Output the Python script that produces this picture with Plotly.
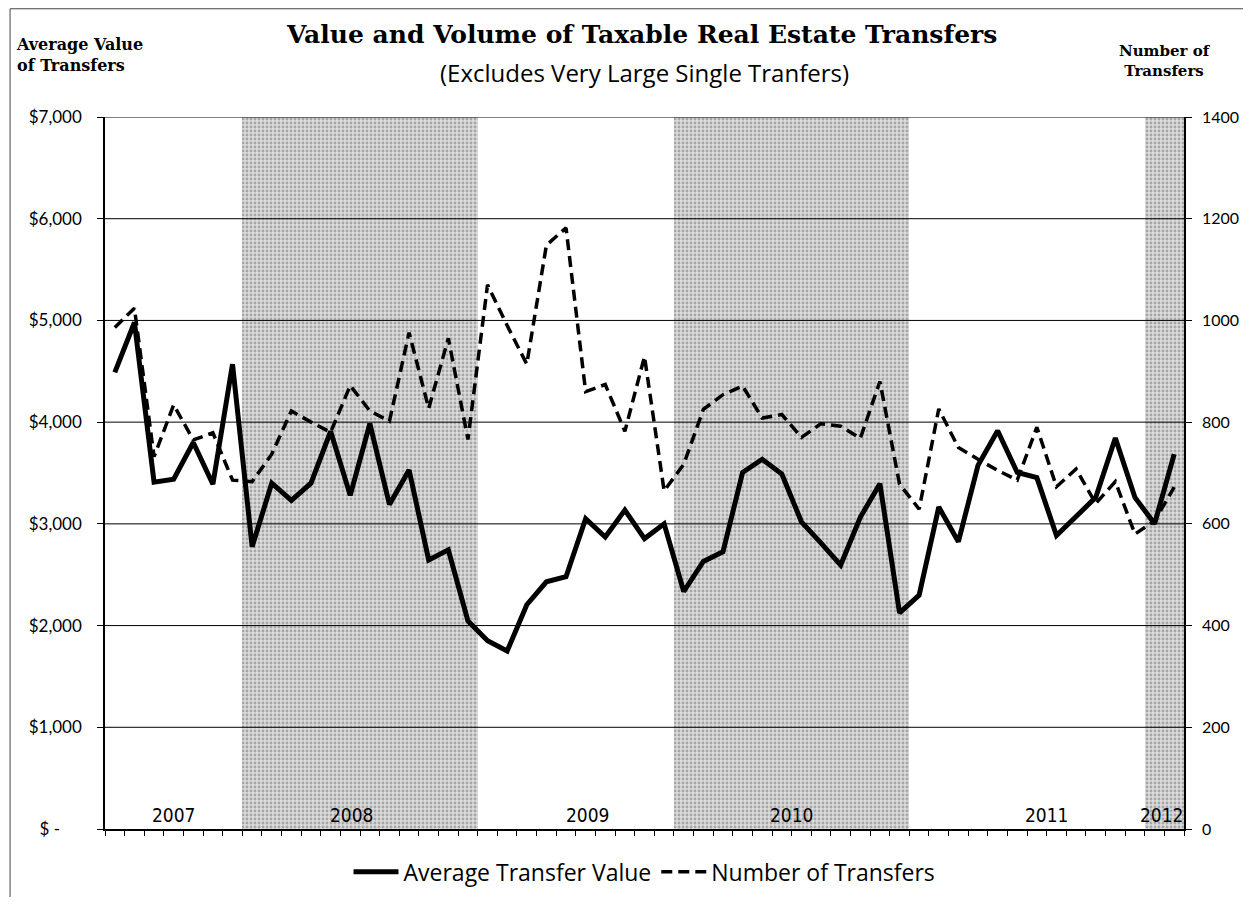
import calendar
import plotly.graph_objects as go

# ---------------- data ----------------
years = [2007, 2008, 2009, 2010, 2011, 2012]
months_per_year = [7, 12, 10, 12, 12, 2]
first_month = [6, 1, 1, 1, 1, 1]
shaded_years = [2008, 2010, 2012]

avg_value = [4490, 4980, 3410, 3440, 3800, 3390, 4570,
             2775, 3400, 3230, 3400, 3910, 3280, 3985, 3190, 3530, 2645, 2745, 2045,
             1850, 1750, 2205, 2430, 2480, 3050, 2870, 3135, 2855, 3000,
             2335, 2630, 2725, 3505, 3635, 3490, 3020, 2810, 2595, 3065, 3395, 2125,
             2300, 3165, 2825, 3575, 3915, 3505, 3455, 2885, 3065, 3260, 3845, 3260,
             3000, 3685]

num_transfers = [986, 1024, 732, 834, 765, 779, 686,
                 683, 737, 822, 800, 780, 872, 822, 802, 976, 827, 965, 766,
                 1070, 990, 914, 1148, 1182, 860, 874, 782, 929, 665,
                 717, 825, 854, 871, 808, 815, 770, 797, 792, 768, 880, 678,
                 629, 826, 750, 727, 705, 686, 790, 673, 708, 640, 683, 580,
                 606, 672]

left_ticks = [0, 1000, 2000, 3000, 4000, 5000, 6000, 7000]
left_ticktext = ["$\u00a0-\u00a0\u00a0\u00a0\u00a0\u00a0",
                 "$1,000", "$2,000", "$3,000", "$4,000", "$5,000", "$6,000", "$7,000"]
right_ticks = [0, 200, 400, 600, 800, 1000, 1200, 1400]

# ---------------- categories ----------------
month_labels = []
month_year = []
for y, n, f in zip(years, months_per_year, first_month):
    for m in range(f, f + n):
        month_labels.append(f"{calendar.month_abbr[m]} {y}")
        month_year.append(y)

shade_x = [lbl for lbl, y in zip(month_labels, month_year) if y in shaded_years]
shade_y = [left_ticks[-1]] * len(shade_x)

# ---------------- figure ----------------
fig = go.Figure()

fig.add_trace(go.Bar(
    x=shade_x, y=shade_y, yaxis="y", showlegend=False, hoverinfo="skip",
    marker=dict(color="#d0d0d0", line=dict(width=0),
                pattern=dict(shape=".", fgcolor="#707070", bgcolor="#dcdcdc",
                             size=4, solidity=0.4)),
))

fig.add_trace(go.Scatter(
    x=month_labels, y=avg_value, mode="lines", name="Average Transfer Value",
    line=dict(color="black", width=5), yaxis="y",
))
fig.add_trace(go.Scatter(
    x=month_labels, y=num_transfers, mode="lines", name="Number of Transfers",
    line=dict(color="black", width=3.5, dash="11px,6px"), yaxis="y2",
))

tick_font = dict(family="Lato, Open Sans, sans-serif", size=17, color="black")
right_tick_font = dict(family="Lato, Open Sans, sans-serif", size=16, color="black")

shapes = []
for v in left_ticks[1:]:
    shapes.append(dict(type="line", xref="paper", yref="y", x0=0, x1=1, y0=v, y1=v,
                       line=dict(color="black", width=1), layer="above"))
# outer chart border
shapes.append(dict(type="line", xref="paper", yref="paper", x0=-0.088, x1=-0.088,
                   y0=-0.2, y1=1.152, line=dict(color="#444", width=1)))
shapes.append(dict(type="line", xref="paper", yref="paper", x0=-0.088, x1=1.07,
                   y0=1.152, y1=1.152, line=dict(color="#444", width=1)))

year_label_pos = [3.0, 12.1, 24.1, 34.5, 47.5, 53.4]
annotations = []
for y, xp in zip(years, year_label_pos):
    annotations.append(dict(text=str(y), x=xp, xref="x", y=0, yref="paper",
                            yanchor="bottom", yshift=1, showarrow=False,
                            font=dict(family="Liberation Sans Narrow, DejaVu Sans Condensed, sans-serif",
                                      size=19, color="black")))

annotations += [
    dict(text="<b>Value and Volume of Taxable Real Estate Transfers</b>",
         xref="paper", yref="paper", x=0.497, y=1.116, showarrow=False,
         xanchor="center", yanchor="middle",
         font=dict(family="DejaVu Serif, serif", size=25, color="black")),
    dict(text="(Excludes Very Large Single Tranfers)",
         xref="paper", yref="paper", x=0.5, y=1.063, showarrow=False,
         xanchor="center", yanchor="middle",
         font=dict(family="Open Sans, Lato, sans-serif", size=24, color="black")),
    dict(text="<b>Average Value<br>of Transfers</b>",
         xref="paper", yref="paper", x=-0.084, y=1.087, showarrow=False,
         xanchor="left", yanchor="middle", align="left",
         font=dict(family="DejaVu Serif, serif", size=16, color="black")),
    dict(text="<b>Number of<br>Transfers</b>",
         xref="paper", yref="paper", x=0.982, y=1.078, showarrow=False,
         xanchor="center", yanchor="middle", align="center",
         font=dict(family="DejaVu Serif, serif", size=15, color="black")),
]

fig.update_layout(
    width=1235, height=889,
    margin=dict(l=97, r=59, t=109, b=68, autoexpand=False),
    paper_bgcolor="white", plot_bgcolor="white",
    bargap=0,
    showlegend=True,
    legend=dict(orientation="h", x=0.5, xanchor="center", y=-0.06, yanchor="middle",
                font=dict(family="Open Sans, Lato, sans-serif", size=23, color="black"),
                itemwidth=45),
    xaxis=dict(type="category", categoryorder="array", categoryarray=month_labels,
               range=[-0.5, len(month_labels) - 0.5],
               showticklabels=False, ticks="outside", tickson="boundaries",
               tickmode="linear", tick0=0, dtick=1,
               ticklen=5, tickcolor="black", showline=True, linecolor="black",
               linewidth=1.5, showgrid=False, zeroline=False, layer="above traces"),
    yaxis=dict(range=[0, 7000], tickmode="array", tickvals=left_ticks, ticktext=left_ticktext,
               ticks="outside", ticklen=6, tickcolor="black", showline=True,
               linecolor="black", linewidth=1.5, showgrid=False, zeroline=False,
               tickfont=tick_font, ticklabelstandoff=12, layer="above traces",
               automargin=False),
    yaxis2=dict(range=[0, 1400], tickmode="array", tickvals=right_ticks,
                overlaying="y", side="right", anchor="x",
                ticks="outside", ticklen=6, tickcolor="black", showline=True,
                linecolor="black", linewidth=1.5, showgrid=False, zeroline=False,
                tickfont=right_tick_font, ticklabelstandoff=7, layer="above traces",
                automargin=False),
    shapes=shapes,
    annotations=annotations,
)

fig.write_html("out.html")
